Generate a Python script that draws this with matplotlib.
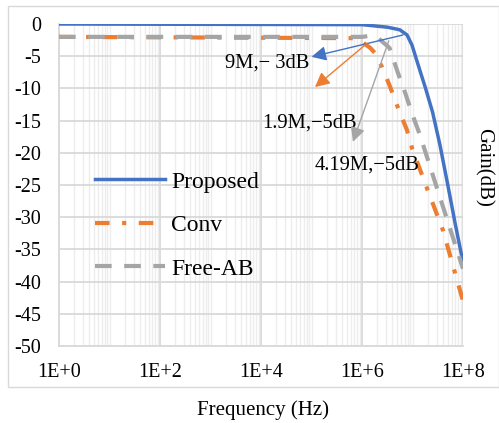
import matplotlib
matplotlib.use("Agg")
import matplotlib.pyplot as plt
from matplotlib.ticker import LogLocator, FixedLocator, NullFormatter
from matplotlib.patches import Rectangle

plt.rcParams.update({
    "font.family": ["Liberation Serif", "DejaVu Serif"],
    "axes.unicode_minus": False,
})

# ---- data ----
prop_f = [1, 1e6, 3.2e6, 5.6e6, 7.8e6, 9.8e6, 1.3e7, 1.8e7, 2.5e7, 3.5e7, 5e7, 7e7, 1e8]
prop_db = [0, -0.1, -0.5, -0.9, -1.7, -3.3, -6.4, -9.9, -13.7, -18.8, -25, -31, -37]

conv_f = [1, 7.9e5, 1.45e6, 1.8e6, 2.5e6, 3.5e6, 5.1e6, 7.8e6, 9.8e6, 2.0e7, 4.0e7, 1e8]
conv_db = [-2, -2.2, -3.7, -4.5, -6.7, -9.5, -12.9, -16.5, -19.3, -25.8, -32, -43]

free_f = [1, 1e6, 1.6e6, 2.1e6, 3.5e6, 5.1e6, 7.1e6, 1.0e7, 1.4e7, 3.0e7, 1e8]
free_db = [-2, -2, -1.8, -2.2, -3.7, -7.5, -10.6, -14.1, -17.2, -25.3, -38]

xticks = [1, 1e2, 1e4, 1e6, 1e8]
xtick_labels = ["1E+0", "1E+2", "1E+4", "1E+6", "1E+8"]
yticks = list(range(-50, 1, 5))

BLUE, ORANGE, GRAY = "#4472C4", "#ED7D31", "#A5A5A5"
GRID = "#d9d9d9"

fig = plt.figure(figsize=(4.99, 4.23), dpi=100)
ax = fig.add_axes([59 / 499, 1 - 346 / 423, (463 - 59) / 499, (346 - 24) / 423])

# outer chart border
fig.patches.append(Rectangle((8 / 499, 1 - 387 / 423), 0.999 - 8 / 499, (387 - 6) / 423,
                             transform=fig.transFigure, fill=False, edgecolor=GRID, lw=1))

ax.set_xscale("log")
ax.set_xlim(1, 1e8)
ax.set_ylim(-50, 0)
ax.xaxis.set_major_locator(FixedLocator(xticks))
ax.set_xticklabels(xtick_labels)
ax.xaxis.set_minor_locator(LogLocator(base=10, subs=range(1, 10), numticks=100))
ax.xaxis.set_minor_formatter(NullFormatter())
ax.set_yticks(yticks)
ax.set_yticklabels([str(v) for v in yticks])
ax.tick_params(which="both", length=0, labelsize=14.5)
ax.tick_params(axis="y", pad=13)
ax.tick_params(axis="x", pad=12)

ax.grid(True, which="major", color=GRID, lw=1.3)
ax.grid(True, which="minor", axis="x", color="#ededed", lw=1)
for s in ["top", "right"]:
    ax.spines[s].set_visible(False)
for s in ["left", "bottom"]:
    ax.spines[s].set_color(GRID)
    ax.spines[s].set_linewidth(1.3)
ax.set_axisbelow(True)

ax.plot(prop_f, prop_db, color=BLUE, lw=2.5, label="Proposed", zorder=3)
l2, = ax.plot(conv_f, conv_db, color=ORANGE, lw=3, label="Conv", zorder=3)
l2.set_dashes((3.5, 3, 1, 3))
l3, = ax.plot(free_f, free_db, color=GRAY, lw=3, label="Free-AB", zorder=3)
l3.set_dashes((4, 3))
for l in (l2, l3):
    l.set_dash_capstyle("butt")

# annotation arrows
arrow = dict(arrowstyle="-|>", mutation_scale=22, lw=1, shrinkA=0, shrinkB=0)
ax.annotate("", xy=(1.0e5, -5.1), xytext=(6.5e6, -1.7),
            arrowprops=dict(arrow, color=BLUE), zorder=4)
ax.annotate("", xy=(1.17e5, -9.8), xytext=(1.26e6, -3.0),
            arrowprops=dict(arrow, color=ORANGE), zorder=4)
ax.annotate("", xy=(6.6e5, -18.3), xytext=(3.4e6, -2.6),
            arrowprops=dict(arrow, color=GRAY), zorder=4)

ax.text(10 ** 4.12, -6.06, "9M,\u2212 3dB", fontsize=14.8, ha="center", va="center")
ax.text(10 ** 4.97, -15.4, "1.9M,\u22125dB", fontsize=14.8, ha="center", va="center")
ax.text(10 ** 6.1, -21.9, "4.19M,\u22125dB", fontsize=14.8, ha="center", va="center")

fig.text(483 / 499, 1 - 167 / 423, "Gain(dB)", rotation=270, fontsize=15,
         ha="center", va="center")
fig.text(263 / 499, 1 - 410 / 423, "Frequency (Hz)", fontsize=15,
         ha="center", va="center")

ax.legend(loc="upper left", bbox_to_anchor=(0.059, 0.58), frameon=False, fontsize=17,
          handlelength=3.0, handletextpad=0.25, labelspacing=0.93, borderpad=0)

fig.savefig("out.png", dpi=100)
